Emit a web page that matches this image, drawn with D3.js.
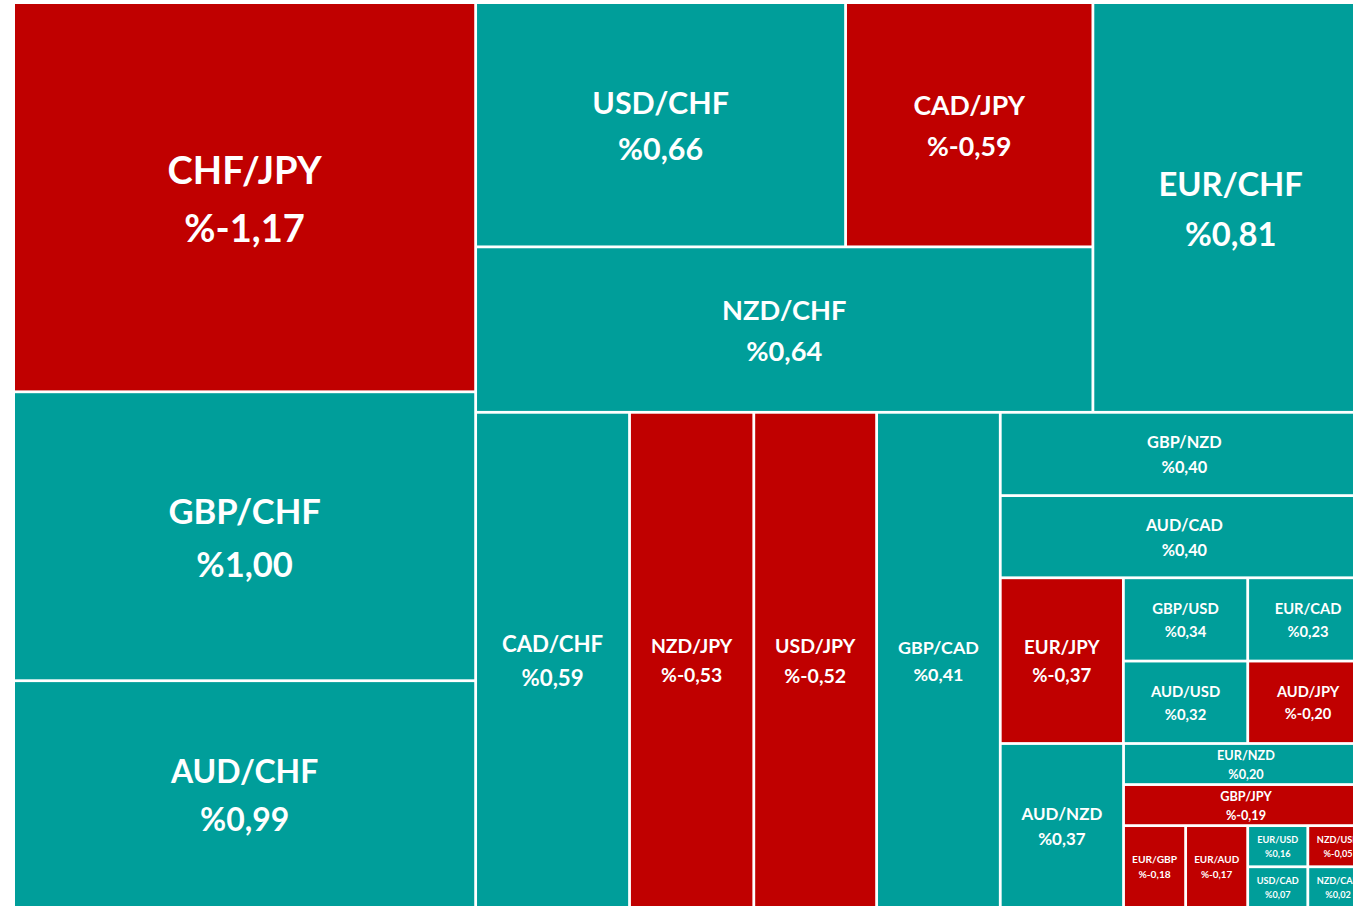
<!DOCTYPE html>
<html>
<head>
<meta charset="utf-8">
<script src="https://cdn.jsdelivr.net/npm/d3@7/dist/d3.min.js"></script>
<style>
  html, body { margin: 0; padding: 0; background: #ffffff; overflow: hidden; }
  svg { display: block; }
  text { font-family: Lato, "Noto Sans", sans-serif; font-weight: 700; fill: #ffffff; }
</style>
</head>
<body>
<svg id="chart" width="1353" height="906"></svg>
<script>
// ---- data ----
const pairs = ["CHF/JPY","GBP/CHF","AUD/CHF","USD/CHF","CAD/JPY","NZD/CHF","EUR/CHF",
  "CAD/CHF","NZD/JPY","USD/JPY","GBP/CAD","GBP/NZD","AUD/CAD","EUR/JPY","GBP/USD",
  "EUR/CAD","AUD/USD","AUD/JPY","AUD/NZD","EUR/NZD","GBP/JPY","EUR/GBP","EUR/AUD",
  "EUR/USD","USD/CAD","NZD/USD","NZD/CAD"];
const changes = [-1.17, 1.00, 0.99, 0.66, -0.59, 0.64, 0.81,
  0.59, -0.53, -0.52, 0.41, 0.40, 0.40, -0.37, 0.34,
  0.23, 0.32, -0.20, 0.37, 0.20, -0.19, -0.18, -0.17,
  0.16, 0.07, -0.05, 0.02];
// relative tile weights (estimated from the tile areas)
const weights = [178.9, 132.8, 104.2, 89.9, 60.1, 101.6, 112.3,
  75.8, 61.2, 60.5, 60.9, 30.5, 30.1, 20.3, 10.3,
  10.0, 10.2, 9.9, 20.1, 10.0, 10.0, 5.05, 5.05,
  2.46, 2.43, 2.48, 2.45];

// grouping of the tiles (h = side by side, v = stacked)
const grouping = {dir: "h", children: [
  {dir: "v", children: ["CHF/JPY", "GBP/CHF", "AUD/CHF"]},
  {dir: "v", children: [
    {dir: "h", children: [
      {dir: "v", children: [{dir: "h", children: ["USD/CHF", "CAD/JPY"]}, "NZD/CHF"]},
      "EUR/CHF"]},
    {dir: "h", children: ["CAD/CHF", "NZD/JPY", "USD/JPY", "GBP/CAD",
      {dir: "v", children: ["GBP/NZD", "AUD/CAD",
        {dir: "h", children: ["EUR/JPY",
          {dir: "v", children: [{dir: "h", children: ["GBP/USD", "EUR/CAD"]},
                                {dir: "h", children: ["AUD/USD", "AUD/JPY"]}]}]},
        {dir: "h", children: ["AUD/NZD",
          {dir: "v", children: ["EUR/NZD", "GBP/JPY",
            {dir: "h", children: ["EUR/GBP", "EUR/AUD",
              {dir: "v", children: ["EUR/USD", "USD/CAD"]},
              {dir: "v", children: ["NZD/USD", "NZD/CAD"]}]}]}]}
      ]}
    ]}
  ]}
]};

// ---- build ----
function expand(n) {
  if (typeof n === "string") {
    const i = pairs.indexOf(n);
    return {name: n, change: changes[i], weight: weights[i]};
  }
  return {dir: n.dir, children: n.children.map(expand)};
}

const originX = 15, originY = 4, fullW = 1352, fullH = 902;
const RED = "#C00000", TEAL = "#009E9A";

const root = d3.hierarchy(expand(grouping), d => d.children)
  .sum(d => d.weight || 0);

const tileFn = (node, x0, y0, x1, y1) =>
  (node.data.dir === "h" ? d3.treemapDice : d3.treemapSlice)(node, x0, y0, x1, y1);

d3.treemap().tile(tileFn).size([fullW, fullH]).paddingInner(2.8)(root);

const svg = d3.select("#chart");
const g = svg.append("g").attr("transform", `translate(${originX},${originY})`);

const fmt = v => "%" + d3.format(".2f")(v).replace(".", ",").replace("\u2212", "-");

const leaves = root.leaves();
const cell = g.selectAll("g.cell").data(leaves).join("g").attr("class", "cell");

cell.append("rect")
  .attr("x", d => d.x0).attr("y", d => d.y0)
  .attr("width", d => d.x1 - d.x0).attr("height", d => d.y1 - d.y0)
  .attr("fill", d => d.data.change < 0 ? RED : TEAL);

// label size: grows with tile area, limited by tile height and width
const areaScale = d3.scalePow().exponent(0.325).domain([0, 178900]).range([0, 45]);
const heightScale = d3.scaleLinear().domain([41, 83, 165]).range([15.2, 19.5, 32.4]);
const K = 0.85; // Lato vs Calibri scale

cell.each(function(d) {
  const w = d.x1 - d.x0, h = d.y1 - d.y0;
  const cx = (d.x0 + d.x1) / 2, cy = (d.y0 + d.y1) / 2;
  let fsC = Math.min(areaScale(w * h), heightScale(h));
  let fs = fsC * K;
  const sel = d3.select(this);
  const t1 = sel.append("text").attr("text-anchor", "middle").text(d.data.name);
  const t2 = sel.append("text").attr("text-anchor", "middle").text(fmt(d.data.change));
  t1.style("font-size", fs + "px"); t2.style("font-size", fs + "px");
  const tw = Math.max(t1.node().getComputedTextLength(), t2.node().getComputedTextLength());
  const fitRatio = w < 90 ? 0.76 : 0.67;
  if (tw > fitRatio * w) {
    fs = fs * fitRatio * w / tw;
    t1.style("font-size", fs + "px"); t2.style("font-size", fs + "px");
  }
  const half = 0.76 * fs;
  const capHalf = 0.41 * fs;
  t1.attr("x", cx).attr("y", cy - half + capHalf);
  t2.attr("x", cx).attr("y", cy + half + capHalf);
});
</script>
</body>
</html>
